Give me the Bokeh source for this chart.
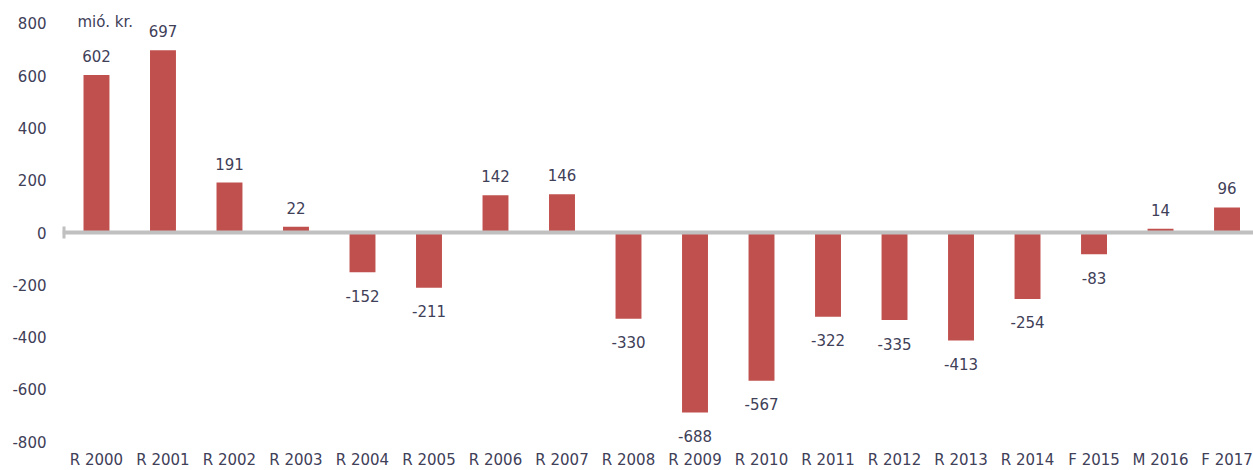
from bokeh.plotting import figure
from bokeh.models import ColumnDataSource, FixedTicker, LinearAxis, Range1d, Label
from bokeh.core.properties import value
from bokeh.embed import file_html
from bokeh.resources import INLINE

categories = ["R 2000", "R 2001", "R 2002", "R 2003", "R 2004", "R 2005",
              "R 2006", "R 2007", "R 2008", "R 2009", "R 2010", "R 2011",
              "R 2012", "R 2013", "R 2014", "F 2015", "M 2016", "F 2017"]
values = [602, 697, 191, 22, -152, -211, 142, 146, -330, -688, -567, -322,
          -335, -413, -254, -83, 14, 96]
y_ticks = [-800, -600, -400, -200, 0, 200, 400, 600, 800]
unit_label = "mió. kr."

BAR = "#C0504D"
TEXT = "#404058"
AXIS = "#C0C0C0"
FONT = "DejaVu Sans"
FS = "15px"

xs = list(range(len(categories)))
labels = [str(v) for v in values]
offsets = [-19 if v >= 0 else 23.5 for v in values]
src = ColumnDataSource(dict(x=xs, top=values, label=labels, dy=offsets))

p = figure(width=1253, height=470, output_backend="svg", toolbar_location=None,
           x_range=Range1d(-0.511, 17.398), y_range=Range1d(-910.1, 887.2),
           x_axis_type=None, min_border=0, min_border_left=62)
p.outline_line_color = None
p.ygrid.grid_line_color = None
p.background_fill_color = "white"
p.border_fill_color = "white"

p.vbar(x="x", top="top", bottom=0, width=0.39, source=src,
       fill_color=BAR, line_color=None)
p.text(x="x", y="top", text="label", y_offset="dy", source=src,
       text_align="center", text_baseline="alphabetic",
       text_font=value(FONT), text_font_size=FS, text_color=TEXT)

ya = p.yaxis[0]
ya.ticker = FixedTicker(ticks=y_ticks)
ya.major_label_overrides = {t: str(t) for t in y_ticks}
ya.axis_line_color = None
ya.major_tick_line_color = None
ya.minor_tick_line_color = None
ya.major_tick_in = 0
ya.major_tick_out = 0
ya.major_label_standoff = 16
ya.major_label_text_font = FONT
ya.major_label_text_font_size = FS
ya.major_label_text_color = TEXT

# zero line with the small stub at its left end
zero_axis = LinearAxis(fixed_location=0, ticker=FixedTicker(ticks=[-0.5]),
                       axis_line_color=AXIS, axis_line_width=4,
                       major_tick_line_color=AXIS, major_tick_line_width=4,
                       major_tick_in=6, major_tick_out=6,
                       minor_tick_line_color=None,
                       major_label_text_color=None)
p.add_layout(zero_axis, "below")

# category labels along the bottom
cat_axis = LinearAxis(fixed_location=-822, ticker=FixedTicker(ticks=xs),
                      major_label_overrides={i: c for i, c in enumerate(categories)},
                      axis_line_color=None, major_tick_line_color=None,
                      minor_tick_line_color=None, major_tick_in=0, major_tick_out=0,
                      major_label_standoff=4,
                      major_label_text_font=FONT, major_label_text_font_size=FS,
                      major_label_text_color=TEXT)
p.add_layout(cat_axis, "below")

p.add_layout(Label(x=-0.286, y=805, text=unit_label, text_align="left",
                   text_baseline="alphabetic", text_font=FONT,
                   text_font_size=FS, text_color=TEXT))

open("out.html", "w").write(file_html(p, INLINE))
